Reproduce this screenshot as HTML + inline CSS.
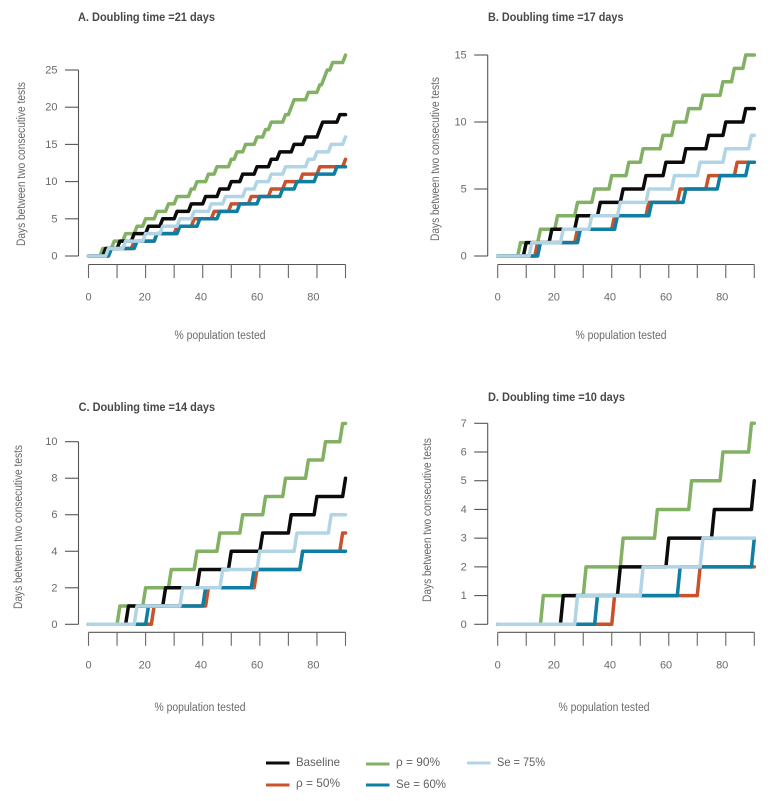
<!DOCTYPE html>
<html lang="en">
<head>
<meta charset="utf-8">
<title>Days between two consecutive tests by doubling time</title>
<style>
html,body{margin:0;padding:0;background:#fff;width:783px;height:801px;overflow:hidden}
svg{display:block;font-family:"Liberation Sans",sans-serif}
.tick{font-size:11px;fill:#6a6a6a}
.ttl{font-size:11.5px;font-weight:bold;fill:#484848}
.lab{font-size:11.5px;fill:#6a6a6a}
.leg{font-size:12px;fill:#606060}
</style>
</head>
<body>
<svg id="chart" width="783" height="801" viewBox="0 0 783 801" xmlns="http://www.w3.org/2000/svg"></svg>
<script>
// Tick values
const xTicks = [0, 10, 20, 30, 40, 50, 60, 70, 80, 90];
const xTickLabels = [0, 20, 40, 60, 80];
const yTicksA = [0, 5, 10, 15, 20, 25];
const yTicksB = [0, 5, 10, 15];
const yTicksC = [0, 2, 4, 6, 8, 10];
const yTicksD = [0, 1, 2, 3, 4, 5, 6, 7];
const xMax = 90;

// Each value = % population tested at which the series climbs to the next whole day
const a_rho90 = [4,8,12,16,19,23,27,30,35,37,41,44,49,51,54,58,61,63,68,70,71,76,80,81.6,82.6,84.5,89];
const a_baseline = [5,10,15,20,25,30,35,40,45,49,53,58,63,66,71,75,80,81,87];
const a_rho50 = [7,15,23,30,36,43,49,56,63,68,74,80,89];
const a_se60 = [7,16,23,31,38,45,52,59,67,72,79,86];
const a_se75 = [6,12,19,25,31,36,42,47,54,58,63,68,76,79,84,89];

const b_rho90 = [7,14,20,27,33,39,45,50,57,61,66,71,78,82,86];
const b_baseline = [9,18,27,35,43,51,58,65,73,79,86];
const b_rho50 = [13,27,40,52,63,73,83];
const b_se60 = [14,28,41,53,65,77,87];
const b_se75 = [11,22,32,42,52,61,70,79,88];

const c_rho90 = [10,19,28,37,45,53,61,68,76,82,88];
const c_baseline = [13,26,38,49,60,70,79,89];
const c_rho50 = [22,41,58,74,88];
const c_se60 = [20,40,57,74];
const c_se75 = [16,32,46,59,72,84];

const d_rho90 = [15,30,43,55,67,78,88];
const d_baseline = [22,42,59,75,89];
const d_rho50 = [40,70];
const d_se60 = [34,63,89];
const d_se75 = [27,50,71];

// Panel titles and legend labels
const titleA = "A. Doubling time =21 days";
const titleB = "B. Doubling time =17 days";
const titleC = "C. Doubling time =14 days";
const titleD = "D. Doubling time =10 days";
const yAxisText = "Days between two consecutive tests";
const xAxisText = "% population tested";

const colBlack = "#0b0b0b", colGreen = "#82b163", colOrange = "#c8522b", colTeal = "#0f7ea3", colLight = "#b2d5e6";
const NS = "http://www.w3.org/2000/svg";
const root = document.getElementById("chart");

function mk(parent, tag, attrs, text) {
  const el = document.createElementNS(NS, tag);
  for (const k in attrs) el.setAttribute(k, attrs[k]);
  if (text !== undefined) el.textContent = text;
  parent.appendChild(el);
  return el;
}

function stepPath(rises, sx, sy) {
  let d = "M" + sx(0).toFixed(2) + " " + sy(0).toFixed(2);
  rises.forEach(function (r, i) {
    d += "L" + sx(r).toFixed(2) + " " + sy(i).toFixed(2);
    d += "L" + sx(Math.min(r + 1, xMax)).toFixed(2) + " " + sy(i + 1).toFixed(2);
  });
  d += "L" + sx(xMax).toFixed(2) + " " + sy(rises.length).toFixed(2);
  return d;
}

function drawPanel(p) {
  const g = mk(root, "g", {});
  
  
  const sx = function (v) { return p.x0 + (v / xMax) * (p.x1 - p.x0); };
  const yTop = p.yTicks[p.yTicks.length - 1];
  const sy = function (v) { return p.y0 - (v / yTop) * (p.y0 - p.yT); };

  const t = mk(g, "text", { x: p.titleX, y: p.titleY, "class": "ttl", textLength: p.titleW, lengthAdjust: "spacingAndGlyphs" }, p.title);
  
  

  // y axis
  const ax = p.x0 - 10;
  const yLine = mk(g, "line", { x1: ax, x2: ax, y1: sy(yTop), y2: sy(0), stroke: "#555", "stroke-width": 1.1 });
  
  
  p.yTicks.forEach(function (v) {
    const tk = mk(g, "line", { x1: ax - 13.5, x2: ax, y1: sy(v), y2: sy(v), stroke: "#555", "stroke-width": 1.1 });
    
    
    const lb = mk(g, "text", { x: ax - 21, y: sy(v) + 3.5, "text-anchor": "end", "class": "tick" }, String(v));
    
    
  });
  const yt = mk(g, "text", {
    transform: "translate(" + p.yTitleX + " " + p.yTitleY + ") rotate(-90)",
    "text-anchor": "middle", "class": "lab", textLength: 164, lengthAdjust: "spacingAndGlyphs"
  }, yAxisText);
  
  

  // x axis
  const xLine = mk(g, "line", { x1: sx(0), x2: sx(xMax), y1: p.axisY, y2: p.axisY, stroke: "#555", "stroke-width": 1.1 });
  
  
  xTicks.forEach(function (v) {
    const tk = mk(g, "line", { x1: sx(v), x2: sx(v), y1: p.axisY, y2: p.axisY + 13.5, stroke: "#666", "stroke-width": 1.1 });
    
    
  });
  xTickLabels.forEach(function (v) {
    const lb = mk(g, "text", { x: sx(v) - v * 0.045, y: p.axisY + 36, "text-anchor": "middle", "class": "tick" }, String(v));
    
    
  });
  const xt = mk(g, "text", { x: p.xTitleX, y: p.xTitleY, "text-anchor": "middle", "class": "lab", textLength: 91, lengthAdjust: "spacingAndGlyphs" }, xAxisText);
  
  

  // series
  p.series.forEach(function (s) {
    const path = mk(g, "path", {
      d: stepPath(s.values, sx, sy), fill: "none", stroke: s.color,
      "stroke-width": 3.5, "stroke-linejoin": "round", "stroke-linecap": "round"
    });
    
    
  });
}

function seriesOf(green, black, orange, teal, light) {
  return [
    { name: "series-rho-90", color: colGreen, values: green },
    { name: "series-baseline", color: colBlack, values: black },
    { name: "series-rho-50", color: colOrange, values: orange },
    { name: "series-se-60", color: colTeal, values: teal },
    { name: "series-se-75", color: colLight, values: light }
  ];
}

drawPanel({ name: "panel-a", title: titleA, titleX: 78, titleY: 21, titleW: 137, x0: 88.5, x1: 345.5, y0: 256, yT: 70, axisY: 264.5,
  yTicks: yTicksA, yTitleX: 25, yTitleY: 164, xTitleX: 220, xTitleY: 339,
  series: seriesOf(a_rho90, a_baseline, a_rho50, a_se60, a_se75) });
drawPanel({ name: "panel-b", title: titleB, titleX: 488, titleY: 21, titleW: 135.5, x0: 497.7, x1: 754.3, y0: 256, yT: 55, axisY: 264.5,
  yTicks: yTicksB, yTitleX: 439, yTitleY: 159, xTitleX: 621, xTitleY: 339,
  series: seriesOf(b_rho90, b_baseline, b_rho50, b_se60, b_se75) });
drawPanel({ name: "panel-c", title: titleC, titleX: 78.6, titleY: 411, titleW: 136.5, x0: 88.5, x1: 345.5, y0: 624.3, yT: 441.7, axisY: 632.3,
  yTicks: yTicksC, yTitleX: 22, yTitleY: 527, xTitleX: 200, xTitleY: 711,
  series: seriesOf(c_rho90, c_baseline, c_rho50, c_se60, c_se75) });
drawPanel({ name: "panel-d", title: titleD, titleX: 488, titleY: 401, titleW: 137, x0: 497.7, x1: 754.3, y0: 624.3, yT: 423.3, axisY: 632.3,
  yTicks: yTicksD, yTitleX: 431, yTitleY: 520, xTitleX: 604, xTitleY: 711,
  series: seriesOf(d_rho90, d_baseline, d_rho50, d_se60, d_se75) });

// legend
const legendG = mk(root, "g", {});


[
  { label: "Baseline", color: colBlack, x: 266, ly: 763, tx: 296, ty: 766, w: 44 },
  { label: "\u03C1 = 90%", color: colGreen, x: 366, ly: 764, tx: 396, ty: 766, w: 44 },
  { label: "Se = 75%", color: colLight, x: 467, ly: 763, tx: 497, ty: 766, w: 48 },
  { label: "\u03C1 = 50%", color: colOrange, x: 266, ly: 785, tx: 296, ty: 787, w: 44 },
  { label: "Se = 60%", color: colTeal, x: 366, ly: 785, tx: 396, ty: 788, w: 50 }
].forEach(function (e) {
  const entry = mk(legendG, "g", {});
  
  
  mk(entry, "line", { x1: e.x, x2: e.x + 23.5, y1: e.ly, y2: e.ly, stroke: e.color, "stroke-width": 3 });
  mk(entry, "text", { x: e.tx, y: e.ty, "class": "leg", textLength: e.w, lengthAdjust: "spacingAndGlyphs" }, e.label);
});
</script>
</body>
</html>
